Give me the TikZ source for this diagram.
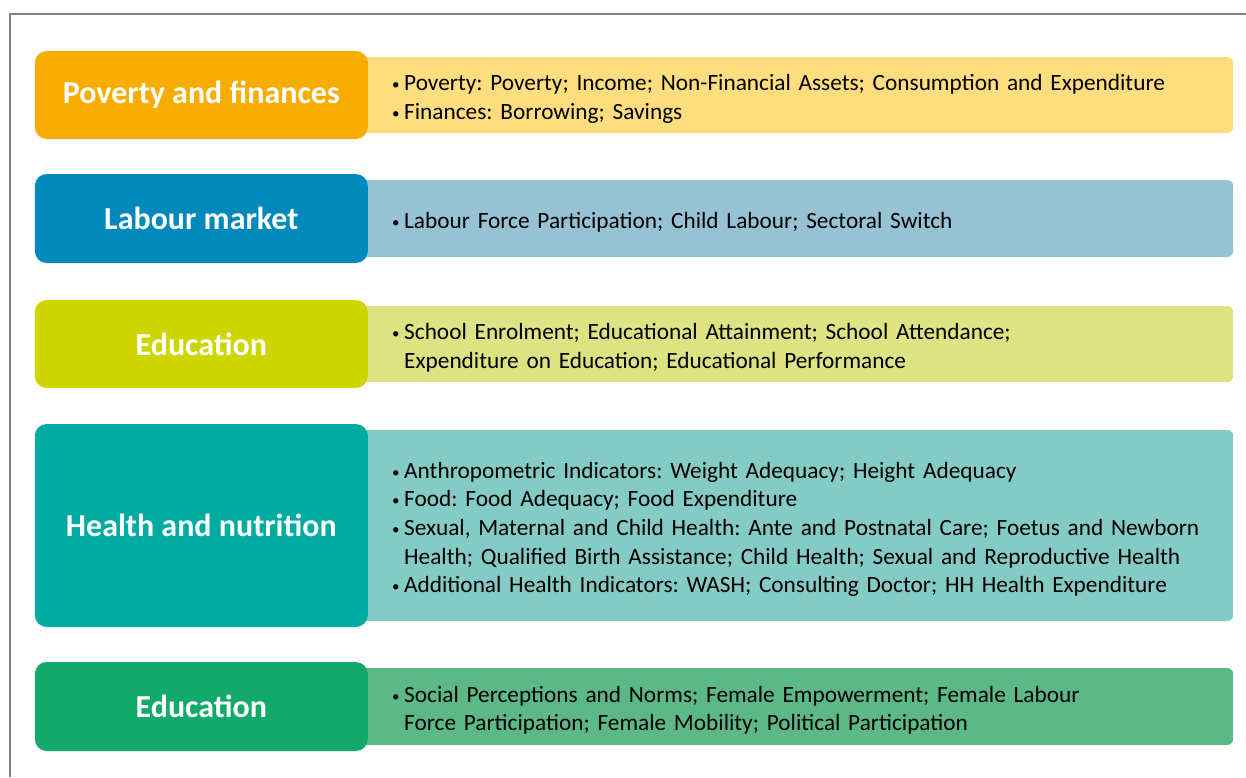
\documentclass[tikz,border=0pt]{standalone}
\usepackage{fontspec}
\setmainfont{Carlito}
\usetikzlibrary{positioning}

\definecolor{povhead}{HTML}{F7AC00}
\definecolor{povlist}{HTML}{FDDD7D}
\definecolor{labhead}{HTML}{0089BA}
\definecolor{lablist}{HTML}{97C2D4}
\definecolor{eduhead}{HTML}{CDD600}
\definecolor{edulist}{HTML}{DDE382}
\definecolor{hlthead}{HTML}{00ABA2}
\definecolor{hltlist}{HTML}{83CBC4}
\definecolor{genhead}{HTML}{12A96B}
\definecolor{genlist}{HTML}{5CB987}

\tikzstyle{headbox}=[rounded corners=12pt, minimum width=333pt, inner sep=0pt,
  text=white, font=\fontsize{32}{36}\selectfont\bfseries]
\tikzstyle{listbox}=[rounded corners=6pt, anchor=west, text width=841pt,
  inner xsep=16pt, inner ysep=0pt, align=left,
  font=\fontsize{23.3}{28.7}\selectfont\frenchspacing]

\newcommand{\bl}{\hspace*{16pt}\makebox[12pt][l]{\raisebox{1pt}{\fontsize{15}{15}\selectfont •}}}
\newcommand{\ind}{\hspace*{28pt}}
\newcommand{\topstrut}{\rule{0pt}{24pt}}

\begin{document}
\begin{tikzpicture}[x=1pt,y=-1pt]
    \useasboundingbox (0,0) rectangle (1246,777);
    \draw[gray, line width=1.3pt] (10,777) -- (10,14) -- (1246,14);

    \coordinate (r1) at (360,95);
    \coordinate (r2) at (360,218.5);
    \coordinate (r3) at (360,344);
    \coordinate (r4) at (360,525.5);
    \coordinate (r5) at (360,706.5);

    % right hand lists
    \node[listbox, fill=povlist, minimum height=76pt] (povtxt) at (r1)
      {\topstrut\bl Poverty: Poverty; Income; Non-Financial Assets; Consumption and Expenditure\\
       \bl Finances: Borrowing; Savings};
    \node[listbox, fill=lablist, minimum height=77pt] (labtxt) at (r2)
      {\topstrut\bl Labour Force Participation; Child Labour; Sectoral Switch};
    \node[listbox, fill=edulist, minimum height=76pt] (edutxt) at (r3)
      {\topstrut\bl School Enrolment; Educational Attainment; School Attendance;\\
       \ind Expenditure on Education; Educational Performance};
    \node[listbox, fill=hltlist, minimum height=191pt] (hlttxt) at (r4)
      {\topstrut\bl Anthropometric Indicators: Weight Adequacy; Height Adequacy\\
       \bl Food: Food Adequacy; Food Expenditure\\
       \bl Sexual, Maternal and Child Health: Ante and Postnatal Care; Foetus and Newborn\\
       \ind Health; Qualified Birth Assistance; Child Health; Sexual and Reproductive Health\\
       \bl Additional Health Indicators: WASH; Consulting Doctor; HH Health Expenditure};
    \node[listbox, fill=genlist, minimum height=77pt] (gentxt) at (r5)
      {\topstrut\bl Social Perceptions and Norms; Female Empowerment; Female Labour\\
       \ind Force Participation; Female Mobility; Political Participation};

    % left hand headings
    \node[headbox, fill=povhead, minimum height=88pt, left=-8pt of povtxt.west] (pov) {Poverty and finances};
    \node[headbox, fill=labhead, minimum height=89pt, left=-8pt of labtxt.west] (lab) {Labour market};
    \node[headbox, fill=eduhead, minimum height=88pt, left=-8pt of edutxt.west] (edu) {Education};
    \node[headbox, fill=hlthead, minimum height=203pt, left=-8pt of hlttxt.west] (hlt) {Health and nutrition};
    \node[headbox, fill=genhead, minimum height=89pt, left=-8pt of gentxt.west] (gen) {Education};
\end{tikzpicture}
\end{document}
